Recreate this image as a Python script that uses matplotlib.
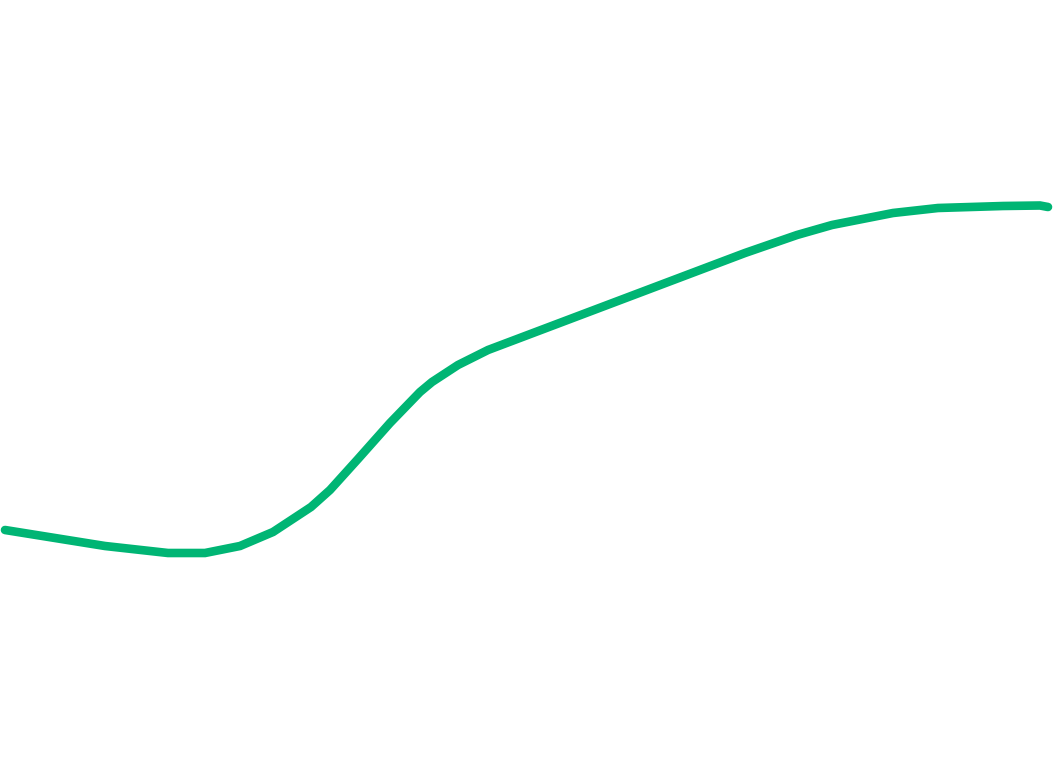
import matplotlib
matplotlib.use("Agg")
import matplotlib.pyplot as plt

# Values (x position, level)
x_vals = [5, 105, 168, 205, 240, 273, 311, 330, 358, 390, 420, 432, 458, 488,
          745, 797, 832, 893, 938, 1003, 1040, 1048]
y_vals = [229, 213, 206, 206, 213, 227, 252, 269, 300, 336, 367, 377, 394, 409,
          506, 524, 534, 546, 551, 553, 553.5, 552]

fig = plt.figure(figsize=(10.53, 7.59), dpi=100)
ax = fig.add_axes([0, 0, 1, 1])
ax.plot(x_vals, y_vals, color="#00b574", linewidth=6.2,
        solid_capstyle="round", solid_joinstyle="miter")
ax.set_xlim(0, 1053)
ax.set_ylim(0, 759)
ax.axis("off")
fig.savefig("out.png", dpi=100, facecolor="white")
